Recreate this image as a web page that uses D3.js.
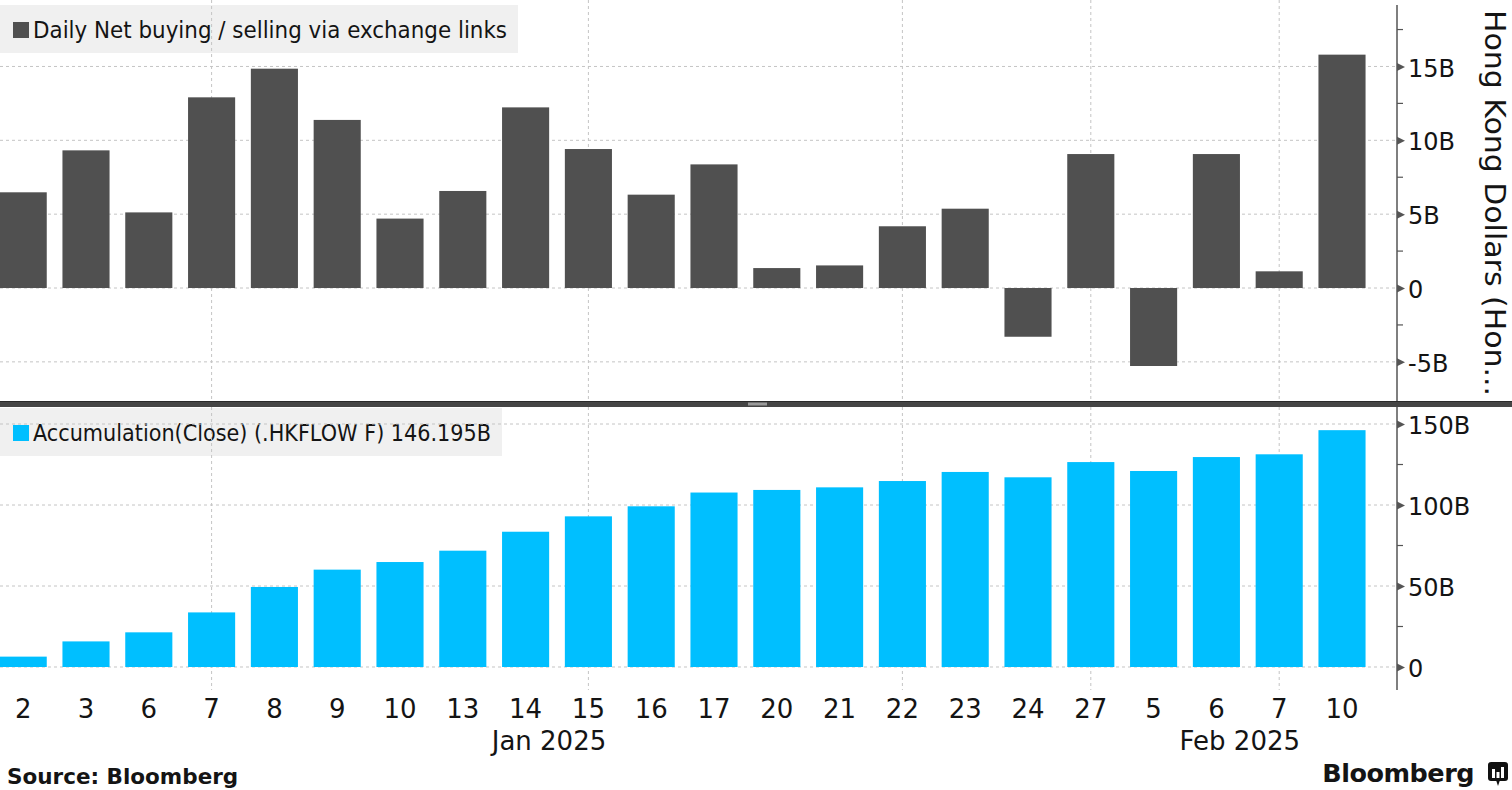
<!DOCTYPE html>
<html>
<head>
<meta charset="utf-8">
<script src="https://cdn.jsdelivr.net/npm/d3@7"></script>
<style>
body{margin:0;background:#fff;overflow:hidden;}
text{font-family:"DejaVu Sans",sans-serif;fill:#141414;}
</style>
</head>
<body>
<svg></svg>
<script>
// trading days shown on the chart
const dates = ["2025-01-02","2025-01-03","2025-01-06","2025-01-07","2025-01-08","2025-01-09","2025-01-10",
	"2025-01-13","2025-01-14","2025-01-15","2025-01-16","2025-01-17","2025-01-20","2025-01-21","2025-01-22",
	"2025-01-23","2025-01-24","2025-01-27","2025-02-05","2025-02-06","2025-02-07","2025-02-10"];
// daily net buying / selling, HK$ bn
const daily = [6.48, 9.32, 5.12, 12.91, 14.85, 11.38, 4.70, 6.57, 12.23, 9.41, 6.32, 8.37,
	1.35, 1.53, 4.18, 5.37, -3.30, 9.07, -5.28, 9.07, 1.13, 15.80];
// accumulation (close), HK$ bn
const accum = [6.4, 15.8, 21.4, 33.7, 49.4, 60.1, 64.8, 71.8, 83.5, 93.0, 99.2, 107.7,
	109.3, 110.9, 114.8, 120.4, 117.1, 126.5, 121.0, 129.6, 131.3, 146.195];

const topTicks = [-5, 0, 5, 10, 15];
const topMinor = [-2.5, 2.5, 7.5, 12.5, 17.5];
const bottomTicks = [0, 50, 100, 150];
const bottomMinor = [25, 75, 125];
const gridDates = ["2025-01-07","2025-01-15","2025-01-22","2025-01-27","2025-02-07"];

const topLegend = "Daily Net buying / selling via exchange links";
const bottomLegend = "Accumulation(Close) (.HKFLOW F) 146.195B";
const axisTitle = "Hong Kong Dollars (Hon...";
const sourceText = "Source:  Bloomberg";

var width = 1512, height = 790;
var axisX = 1397;
var grey = "#505050", blue = "#00bfff";
var parse = d3.timeParse("%Y-%m-%d");
var dayFmt = d3.timeFormat("%-d");
var monthFmt = d3.timeFormat("%b %Y");

var svg = d3.select("svg").attr("width", width).attr("height", height);

var x = d3.scaleBand().domain(dates).range([-8.2, 1373.4]).paddingInner(0.25).paddingOuter(0.125);
var yTop = d3.scaleLinear().domain([-7.65, 19.5]).range([401, 0]);
var yBot = d3.scaleLinear().domain([-14.2, 160.5]).range([690, 407]);
var fmt = d => d == 0 ? "0" : d + "B";
var cx = d => x(d) + x.bandwidth()/2;

// legend backgrounds (gridlines show through them)
function legendBox(y0, w, label, color){
	var g = svg.append("g");
	g.append("rect").attr("x", 0).attr("y", y0).attr("width", w).attr("height", 48).attr("fill", "#f0f0f0");
	return function(){
		g.append("rect").attr("x", 13).attr("y", y0 + 17).attr("width", 16).attr("height", 16).attr("fill", color);
		g.append("text").attr("x", 33).attr("y", y0 + 33).style("font-size", "23px")
		.attr("textLength", w - 44).attr("lengthAdjust", "spacingAndGlyphs").text(label);
	};
}
var topLegendText = legendBox(5, 518, topLegend, grey);
var botLegendText = legendBox(408, 502, bottomLegend, blue);

// gridlines
var grid = svg.append("g").attr("stroke", "#c4c4c4").attr("stroke-dasharray", "3,3").attr("stroke-width", 1);
grid.selectAll(".ht").data(topTicks).join("line")
	.attr("x1", 0).attr("x2", axisX).attr("y1", d => yTop(d)).attr("y2", d => yTop(d));
grid.selectAll(".hb").data(bottomTicks).join("line").attr("class", "hb")
	.attr("x1", 0).attr("x2", axisX).attr("y1", d => yBot(d)).attr("y2", d => yBot(d));
grid.selectAll(".vt").data(gridDates).join("line").attr("class", "vt")
	.attr("x1", cx).attr("x2", cx).attr("y1", yTop.range()[1]).attr("y2", yTop.range()[0]);
grid.selectAll(".vb").data(gridDates).join("line").attr("class", "vb")
	.attr("x1", cx).attr("x2", cx).attr("y1", yBot.range()[1]).attr("y2", yBot.range()[0]);

// bars
svg.append("g").selectAll("rect").data(dates).join("rect")
	.attr("x", d => x(d)).attr("width", x.bandwidth())
	.attr("y", (d,i) => yTop(Math.max(0, daily[i])))
	.attr("height", (d,i) => Math.abs(yTop(daily[i]) - yTop(0)))
	.attr("fill", grey);

svg.append("g").selectAll("rect").data(dates).join("rect")
	.attr("x", d => x(d)).attr("width", x.bandwidth())
	.attr("y", (d,i) => yBot(accum[i]))
	.attr("height", (d,i) => yBot(0) - yBot(accum[i]))
	.attr("fill", blue);

topLegendText();
botLegendText();

// right axes
function rightAxis(scale, ticks, minor, y0, y1){
	var g = svg.append("g").attr("transform", "translate(" + axisX + ",0)");
	g.append("line").attr("y1", y0).attr("y2", y1).attr("stroke", "#555").attr("stroke-width", 1.5);
	g.selectAll(".mn").data(minor).join("line").attr("class", "mn")
		.attr("x1", 0).attr("x2", 6).attr("y1", d => scale(d)).attr("y2", d => scale(d))
		.attr("stroke", "#555").attr("stroke-width", 1.2);
	var ax = d3.axisRight(scale).tickValues(ticks).tickFormat(fmt).tickSize(0).tickPadding(11);
	var a = g.append("g").call(ax);
	a.select(".domain").remove();
	a.selectAll("text").style("font-family", "DejaVu Sans").style("font-size", "24px")
		.attr("fill", "#141414").attr("dy", "0.4em");
	a.selectAll(".tick").append("path").attr("d", "M0,-4L8,0L0,4Z").attr("fill", "#555");
}
rightAxis(yTop, topTicks, topMinor, 5, 401);
rightAxis(yBot, bottomTicks, bottomMinor, 407, 690);

// axis title
svg.append("text").attr("transform", "translate(1485,10) rotate(90)")
	.style("font-size", "29px").attr("text-anchor", "start")
	.attr("textLength", 386).attr("lengthAdjust", "spacingAndGlyphs").text(axisTitle);

// divider between panels
svg.append("rect").attr("x", 0).attr("y", 401).attr("width", width).attr("height", 6).attr("fill", "#454545");
svg.append("line").attr("x1", 0).attr("x2", width).attr("y1", 401.5).attr("y2", 401.5).attr("stroke", "#2a2a2a");
svg.append("rect").attr("x", 748).attr("y", 402.5).attr("width", 19).attr("height", 3).attr("fill", "#9a9a9a");

// x labels
svg.append("g").selectAll("text").data(dates).join("text")
	.attr("x", cx).attr("y", 718).attr("text-anchor", "middle").style("font-size", "26px")
	.text(d => dayFmt(parse(d)));

var months = d3.groups(dates, d => monthFmt(parse(d)));
svg.append("g").selectAll("text").data(months).join("text")
	.attr("x", m => d3.mean(m[1], cx) - 8).attr("y", 750).attr("text-anchor", "middle").style("font-size", "26px")
	.text(m => m[0]);

// footer
svg.append("text").attr("x", 7).attr("y", 784).style("font-size", "21.5px").style("font-weight", "bold").text(sourceText);
svg.append("text").attr("x", 1474).attr("y", 782).attr("text-anchor", "end").style("font-size", "25.5px")
	.style("font-weight", "bold").style("letter-spacing", "-0.5px").text("Bloomberg");
var logo = svg.append("g").attr("transform", "translate(1488,762)");
logo.append("rect").attr("width", 20).attr("height", 19).attr("rx", 3).attr("fill", "#111");
logo.append("path").attr("d", "M8,18L10,24L12,18Z").attr("fill", "#111");
logo.selectAll(".lb").data([[4,9],[8.5,6],[13,11]]).join("rect").attr("class", "lb")
	.attr("x", d => d[0]).attr("y", d => 16 - d[1]).attr("width", 3).attr("height", d => d[1]).attr("fill", "#fff");
</script>
</body>
</html>
